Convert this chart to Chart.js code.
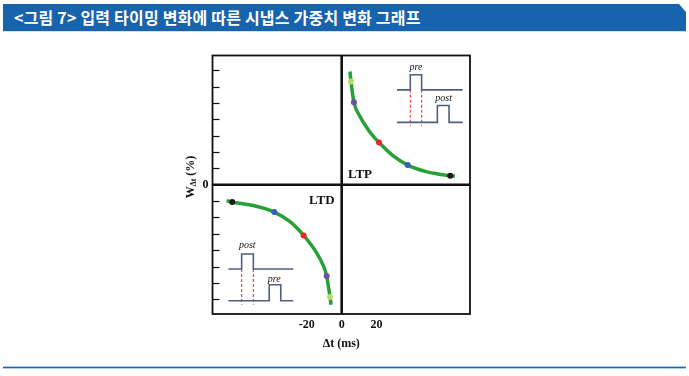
<!DOCTYPE html>
<html>
<head>
<meta charset="utf-8">
<script src="https://cdn.jsdelivr.net/npm/chart.js@4.4.1/dist/chart.umd.min.js"></script>
<style>
  html, body { margin: 0; padding: 0; background: #fff; width: 689px; height: 376px; overflow: hidden; }
  #head {
    position: absolute; left: 3px; top: 4px; width: 683px; height: 27px; background: #1763ad;
    clip-path: polygon(0 0, 676px 0, 683px 8px, 683px 27px, 0 27px);
  }
  #head span {
    position: absolute; left: 11px; top: 3px; color: #fff; white-space: nowrap;
    font: bold 16px "Noto Sans CJK KR", sans-serif; line-height: 20px; letter-spacing: 0.2px;
  }
  #headline { position: absolute; left: 3px; top: 31px; width: 683px; height: 1px; background: #cfe0f1; }
  #foot { position: absolute; left: 3px; top: 366px; width: 683px; height: 3px; background: #a9cbe9; }
  #foot div { position: absolute; left: 0; top: 1px; width: 100%; height: 1px; background: #1d67b0; }
  #wrap { position: absolute; left: 0; top: 0; width: 689px; height: 376px; }
</style>
</head>
<body>
<div id="head"><span>&lt;그림 7&gt; 입력 타이밍 변화에 따른 시냅스 가중치 변화 그래프</span></div>
<div id="headline"></div>
<div id="foot"><div></div></div>
<div id="wrap"><canvas id="myChart" width="689" height="376"></canvas></div>
<script>
// axes
const xRange = [-74, 73.5];
const yRange = [-7.9, 7.9];
const xTickValues = [-20, 0, 20];
const yTickMarks = [-7, -6, -5, -4, -3, -2, -1, 0, 1, 2, 3, 4, 5, 6, 7];

// LTP curve (dt > 0)
const ltpCurveX = [4.75, 5.33, 7.0, 10.5, 13.3, 17.0, 21.4, 28.8, 37.8, 47.8, 55.0, 62.2, 64.9];
const ltpCurveY = [6.92, 6.31, 5.05, 4.17, 3.67, 3.10, 2.58, 1.83, 1.20, 0.82, 0.66, 0.55, 0.53];
// LTD curve (dt < 0)
const ltdCurveX = [-65.9, -62.7, -51.4, -38.6, -29.6, -21.8, -14.1, -10.5, -8.6, -6.7, -6.1];
const ltdCurveY = [-0.98, -1.06, -1.25, -1.67, -2.26, -3.10, -4.21, -4.95, -5.58, -6.86, -7.33];

// coloured sample points on each curve
const pointColors = ['#1a1a1a', '#2f62b5', '#e8282b', '#6b4fa3', '#b8d970'];
const ltpPointX = [62.2, 37.8, 21.4, 7.0, 5.33];
const ltpPointY = [0.55, 1.20, 2.58, 5.05, 6.31];
const ltdPointX = [-62.7, -38.6, -21.8, -8.6, -6.7];
const ltdPointY = [-1.06, -1.67, -3.10, -5.58, -6.86];

// spike timing insets (pulse traces)
const ltpPreX = [31.7, 39.3, 39.3, 45.8, 45.8, 69.3];
const ltpPreY = [5.80, 5.80, 6.72, 6.72, 5.80, 5.80];
const ltpPostX = [31.7, 54.8, 54.8, 61.5, 61.5, 69.3];
const ltpPostY = [3.81, 3.81, 4.84, 4.84, 3.81, 3.81];
const ltpMarkX = [39.3, 45.8];
const ltpMarkY = [5.80, 3.60];
const ltdPostX = [-64.9, -57.3, -57.3, -50.6, -50.6, -27.7];
const ltdPostY = [-5.15, -5.15, -4.23, -4.23, -5.15, -5.15];
const ltdPreX = [-64.9, -41.5, -41.5, -34.9, -34.9, -27.7];
const ltdPreY = [-7.09, -7.09, -6.11, -6.11, -7.09, -7.09];
const ltdMarkX = [-57.3, -50.6];
const ltdMarkY = [-5.15, -7.33];

// text inside the plot
const noteText = ['LTP', 'LTD', 'pre', 'post', 'post', 'pre'];
const noteX = [10.5, -11.4, 42.6, 58.4, -54.1, -38.6];
const noteY = [0.61, -0.96, 7.17, 5.30, -3.71, -5.80];

const zip = (xs, ys) => xs.map((x, i) => ({ x: x, y: ys[i] }));

const traceColor = '#4f5f7d';
const dashColor = '#f2463e';
const serif = '"Liberation Serif", "Times New Roman", serif';

function trace(xs, ys) {
    return { data: zip(xs, ys), showLine: true, borderColor: traceColor, borderWidth: 1.6,
             pointRadius: 0, tension: 0, order: 3 };
}
function dash(x, ys) {
    return { data: zip([x, x], ys), showLine: true, borderColor: dashColor, borderWidth: 1.2,
             borderDash: [3, 2], pointRadius: 0, order: 4 };
}

const datasets = [
    trace(ltpPreX, ltpPreY), trace(ltpPostX, ltpPostY),
    trace(ltdPostX, ltdPostY), trace(ltdPreX, ltdPreY),
    dash(ltpMarkX[0], ltpMarkY), dash(ltpMarkX[1], ltpMarkY),
    dash(ltdMarkX[0], ltdMarkY), dash(ltdMarkX[1], ltdMarkY),
    { data: zip(ltpCurveX, ltpCurveY), showLine: true, borderColor: '#27a037', borderWidth: 3.5,
      pointRadius: 0, cubicInterpolationMode: 'monotone', order: 2 },
    { data: zip(ltdCurveX, ltdCurveY), showLine: true, borderColor: '#27a037', borderWidth: 3.5,
      pointRadius: 0, cubicInterpolationMode: 'monotone', order: 2 },
    { data: zip(ltpPointX, ltpPointY), showLine: false, pointRadius: 3, borderWidth: 0,
      pointBackgroundColor: pointColors, order: 1 },
    { data: zip(ltdPointX, ltdPointY), showLine: false, pointRadius: 3, borderWidth: 0,
      pointBackgroundColor: pointColors, order: 1 }
];

// frame, centre cross, inward ticks, y title and notes
const decorations = {
    id: 'decorations',
    beforeDatasetsDraw(chart) {
        const { ctx, chartArea: a, scales: { x, y } } = chart;
        ctx.save();
        ctx.strokeStyle = '#111';
        ctx.lineWidth = 1.2;
        yTickMarks.forEach(v => {
            if (v === 0) return;
            const py = Math.round(y.getPixelForValue(v)) + 0.5;
            ctx.beginPath(); ctx.moveTo(a.left, py); ctx.lineTo(a.left + 7, py); ctx.stroke();
        });
        ctx.lineWidth = 2.6;
        const x0 = x.getPixelForValue(0), y0 = y.getPixelForValue(0);
        ctx.beginPath(); ctx.moveTo(x0, a.top); ctx.lineTo(x0, a.bottom); ctx.stroke();
        ctx.beginPath(); ctx.moveTo(a.left, y0); ctx.lineTo(a.right, y0); ctx.stroke();
        ctx.lineWidth = 1.8;
        ctx.strokeRect(a.left, a.top, a.right - a.left, a.bottom - a.top);
        ctx.restore();
    },
    afterDraw(chart) {
        const { ctx, scales: { x, y } } = chart;
        ctx.save();
        ctx.fillStyle = '#111';
        ctx.textAlign = 'center';
        ctx.textBaseline = 'middle';
        noteText.forEach((t, i) => {
            ctx.font = t.startsWith('LT') ? 'bold 13px ' + serif : 'italic 10px ' + serif;
            ctx.fillText(t, x.getPixelForValue(noteX[i]), y.getPixelForValue(noteY[i]));
        });
        // y title: W with subscript Δt, then (%)
        ctx.translate(190, 177);
        ctx.rotate(-Math.PI / 2);
        ctx.textAlign = 'left';
        ctx.textBaseline = 'alphabetic';
        const big = 'bold 12px ' + serif, small = 'bold 8px ' + serif;
        ctx.font = big; const w1 = ctx.measureText('W').width;
        ctx.font = small; const w2 = ctx.measureText('Δt').width;
        ctx.font = big; const w3 = ctx.measureText(' (%)').width;
        let px = -(w1 + w2 + w3) / 2;
        ctx.font = big; ctx.fillText('W', px, 4); px += w1;
        ctx.font = small; ctx.fillText('Δt', px, 6); px += w2;
        ctx.font = big; ctx.fillText(' (%)', px, 4);
        ctx.restore();
    }
};

new Chart(document.getElementById('myChart').getContext('2d'), {
    type: 'scatter',
    data: { datasets: datasets },
    options: {
        responsive: false,
        animation: false,
        layout: { padding: { left: 0, top: 55.5, right: 219, bottom: 25 } },
        plugins: { legend: { display: false }, tooltip: { enabled: false } },
        scales: {
            x: {
                type: 'linear', min: xRange[0], max: xRange[1],
                afterBuildTicks: s => { s.ticks = xTickValues.map(v => ({ value: v })); },
                afterFit: s => { s.height = 37; },
                grid: { display: false, drawTicks: false },
                border: { display: false },
                ticks: { padding: 4, color: '#111', font: { family: serif, weight: 'bold', size: 12 },
                         callback: v => String(v) },
                title: { display: true, text: 'Δt (ms)', color: '#111', padding: { top: 6, bottom: 0 },
                         font: { family: serif, weight: 'bold', size: 12 } }
            },
            y: {
                type: 'linear', min: yRange[0], max: yRange[1],
                afterBuildTicks: s => { s.ticks = yTickMarks.map(v => ({ value: v })); },
                afterFit: s => { s.width = 212.5; },
                grid: { display: false, drawTicks: false },
                border: { display: false },
                ticks: { padding: 4, autoSkip: false, color: '#111',
                         font: { family: serif, weight: 'bold', size: 12 },
                         callback: v => (v === 0 ? '0' : '') }
            }
        }
    },
    plugins: [decorations]
});
</script>
</body>
</html>
